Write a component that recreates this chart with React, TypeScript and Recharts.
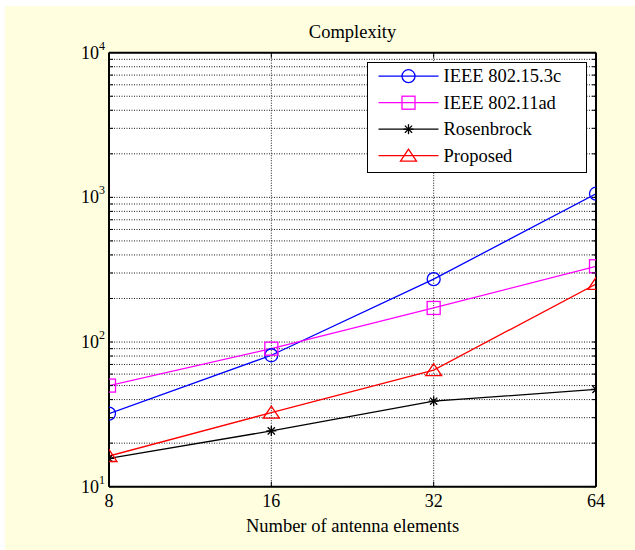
import React from 'react';
import { LineChart, Line, XAxis, YAxis, CartesianGrid, Legend } from 'recharts';

const FONT = '"Liberation Serif", "Times New Roman", Times, serif';

const antennas = [8, 16, 32, 64];
const ieee153c = [32, 81, 272, 1060];
const ieee11ad = [50, 90, 172, 334];
const rosenbrock = [15.7, 24.3, 39, 47];
const proposed = [16.3, 32.5, 64, 252];

const xTicks = [8, 16, 32, 64];
const yMajor = [10, 100, 1000, 10000];
const yTicks = [
  10, 20, 30, 40, 50, 60, 70, 80, 90,
  100, 200, 300, 400, 500, 600, 700, 800, 900,
  1000, 2000, 3000, 4000, 5000, 6000, 7000, 8000, 9000,
  10000,
];
const yExponents = ['1', '2', '3', '4'];

const seriesNames = ['IEEE 802.15.3c', 'IEEE 802.11ad', 'Rosenbrock', 'Proposed'];
const seriesKeys = ['ieee153c', 'ieee11ad', 'rosenbrock', 'proposed'];
const seriesColors = ['#0000ff', '#ff00ff', '#000000', '#ff0000'];
const seriesMarkers = ['circle', 'square', 'star', 'triangle'];

const data = antennas.map((n, i) => ({
  n,
  ieee153c: ieee153c[i],
  ieee11ad: ieee11ad[i],
  rosenbrock: rosenbrock[i],
  proposed: proposed[i],
}));

function Marker({ type, cx, cy, color }: { type: string; cx: number; cy: number; color: string }) {
  const sw = 1.3;
  if (type === 'circle') {
    return <circle cx={cx} cy={cy} r={6.5} fill="none" stroke={color} strokeWidth={sw} />;
  }
  if (type === 'square') {
    return <rect x={cx - 6.5} y={cy - 6.5} width={13} height={13} fill="none" stroke={color} strokeWidth={sw} />;
  }
  if (type === 'triangle') {
    return (
      <polygon
        points={`${cx},${cy - 6.5} ${cx - 8},${cy + 5.5} ${cx + 8},${cy + 5.5}`}
        fill="none"
        stroke={color}
        strokeWidth={sw}
      />
    );
  }
  const r = 5;
  const d = 3.6;
  return (
    <g stroke={color} strokeWidth={1.3}>
      <line x1={cx - r} x2={cx + r} y1={cy} y2={cy} />
      <line x1={cx} x2={cx} y1={cy - r} y2={cy + r} />
      <line x1={cx - d} x2={cx + d} y1={cy - d} y2={cy + d} />
      <line x1={cx - d} x2={cx + d} y1={cy + d} y2={cy - d} />
    </g>
  );
}

const BottomTick = (props: any) => {
  const { x, y, payload } = props;
  return (
    <g>
      <line x1={x} x2={x} y1={y} y2={y - 5} stroke="#000" strokeWidth={1} />
      <text x={x} y={y + 20.5} textAnchor="middle" fontSize={18} fontFamily={FONT} fill="#000">
        {payload.value}
      </text>
    </g>
  );
};

const TopTick = (props: any) => {
  const { x, y } = props;
  return <line x1={x} x2={x} y1={y} y2={y + 5} stroke="#000" strokeWidth={1} />;
};

const LeftTick = (props: any) => {
  const { x, y, payload } = props;
  const idx = yMajor.indexOf(payload.value);
  return (
    <g>
      <line x1={x} x2={x + 4} y1={y} y2={y} stroke="#000" strokeWidth={1} />
      {idx >= 0 && (
        <text x={x - 4} y={y + 6} textAnchor="end" fontSize={18} fontFamily={FONT} fill="#000">
          10
          <tspan dy={-9} fontSize={12}>
            {yExponents[idx]}
          </tspan>
        </text>
      )}
    </g>
  );
};

const RightTick = (props: any) => {
  const { x, y } = props;
  return <line x1={x} x2={x - 4} y1={y} y2={y} stroke="#000" strokeWidth={1} />;
};

const renderLegend = () => (
  <div
    style={{
      width: 220,
      height: 111,
      boxSizing: 'border-box',
      border: '1.5px solid #000',
      background: '#fff',
    }}
  >
    <svg width={217} height={108} style={{ display: 'block' }}>
      {seriesNames.map((name, i) => {
        const cy = 13.2 + i * 26.5;
        return (
          <g key={name}>
            <line x1={10.5} x2={70.5} y1={cy} y2={cy} stroke={seriesColors[i]} strokeWidth={1.3} />
            <Marker type={seriesMarkers[i]} cx={40.5} cy={cy} color={seriesColors[i]} />
            <text x={75.5} y={cy + 6} fontSize={18.5} fontFamily={FONT} fill="#000">
              {name}
            </text>
          </g>
        );
      })}
    </svg>
  </div>
);

export default function App() {
  return (
    <div style={{ position: 'absolute', left: 0, top: 0, width: 635, height: 550, background: '#fff' }}>
      <div style={{ position: 'absolute', left: 5, top: 6, width: 630, height: 544, background: '#ffffe0' }} />
      <div style={{ position: 'absolute', left: 0, top: 0 }}>
        <LineChart
          width={635}
          height={550}
          data={data}
          margin={{ top: 42.7, right: 29, bottom: 13.3, left: 49 }}
        >
          <CartesianGrid stroke="#1a1a1a" strokeDasharray="1 1.5" fill="#fff" fillOpacity={1} />
          <XAxis
            dataKey="n"
            type="number"
            scale="log"
            domain={[8, 64]}
            ticks={xTicks}
            interval={0}
            allowDataOverflow
            height={50}
            tickSize={0}
            tickMargin={0}
            tick={<BottomTick />}
            axisLine={{ stroke: '#000', strokeWidth: 2 }}
            label={{
              value: 'Number of antenna elements',
              position: 'insideBottom',
              offset: 5,
              fontSize: 18.5,
              fontFamily: FONT,
              fill: '#000',
            }}
          />
          <XAxis
            xAxisId="top"
            orientation="top"
            dataKey="n"
            type="number"
            scale="log"
            domain={[8, 64]}
            ticks={xTicks}
            interval={0}
            allowDataOverflow
            height={10}
            tickSize={0}
            tickMargin={0}
            tick={<TopTick />}
            axisLine={{ stroke: '#000', strokeWidth: 2 }}
            label={{
              value: 'Complexity',
              position: 'top',
              offset: 5,
              fontSize: 18.5,
              fontFamily: FONT,
              fill: '#000',
            }}
          />
          <YAxis
            type="number"
            scale="log"
            domain={[10, 10000]}
            ticks={yTicks}
            interval={0}
            allowDataOverflow
            width={60}
            tickSize={0}
            tickMargin={0}
            tick={<LeftTick />}
            axisLine={{ stroke: '#000', strokeWidth: 2 }}
          />
          <YAxis
            yAxisId="right"
            orientation="right"
            type="number"
            scale="log"
            domain={[10, 10000]}
            ticks={yTicks}
            interval={0}
            allowDataOverflow
            width={10}
            tickSize={0}
            tickMargin={0}
            tick={<RightTick />}
            axisLine={{ stroke: '#000', strokeWidth: 2 }}
          />
          <Legend
            layout="vertical"
            align="center"
            verticalAlign="middle"
            content={renderLegend}
            wrapperStyle={{ position: 'absolute', left: 367, top: 62, width: 220, height: 111 }}
          />
          {seriesKeys.map((k, i) => (
            <Line
              key={k}
              dataKey={k}
              name={seriesNames[i]}
              stroke={seriesColors[i]}
              strokeWidth={1.3}
              isAnimationActive={false}
              activeDot={false}
              dot={(p: any) => (
                <Marker key={`${k}-${p.index}`} type={seriesMarkers[i]} cx={p.cx} cy={p.cy} color={seriesColors[i]} />
              )}
            />
          ))}
        </LineChart>
      </div>
    </div>
  );
}
